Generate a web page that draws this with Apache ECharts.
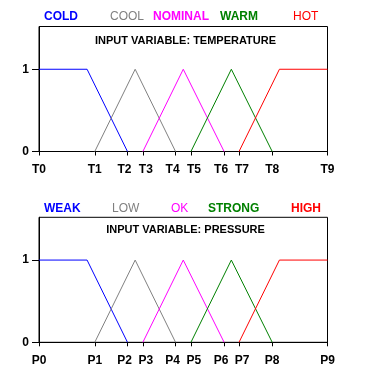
<!DOCTYPE html>
<html>
<head>
<meta charset="utf-8">
<script src="https://cdn.jsdelivr.net/npm/echarts@6/dist/echarts.min.js"></script>
<style>html,body{margin:0;padding:0;background:#fff;}#c{width:371px;height:371px;}</style>
</head>
<body>
<div id="c"></div>
<script>
// ---- data ----
const tempTicks = [0, 1.16, 1.84, 2.16, 2.84, 3.16, 3.85, 4.16, 4.85, 6];
const tempTickLabels = ['T0','T1','T2','T3','T4','T5','T6','T7','T8','T9'];
const presTicks = [0, 1.16, 1.84, 2.16, 2.84, 3.16, 3.85, 4.16, 4.85, 6];
const presTickLabels = ['P0','P1','P2','P3','P4','P5','P6','P7','P8','P9'];
const yTicks = [0, 1];

const tempNames = ['COLD','COOL','NOMINAL','WARM','HOT'];
const presNames = ['WEAK','LOW','OK','STRONG','HIGH'];

const tempCold    = [[0,1],[1,1],[1.84,0]];
const tempCool    = [[1.16,0],[2,1],[2.84,0]];
const tempNominal = [[2.16,0],[3,1],[3.85,0]];
const tempWarm    = [[3.16,0],[4,1],[4.85,0]];
const tempHot     = [[4.16,0],[5,1],[6,1]];

const presWeak   = [[0,1],[1,1],[1.84,0]];
const presLow    = [[1.16,0],[2,1],[2.84,0]];
const presOk     = [[2.16,0],[3,1],[3.85,0]];
const presStrong = [[3.16,0],[4,1],[4.85,0]];
const presHigh   = [[4.16,0],[5,1],[6,1]];

const titles = ['INPUT VARIABLE: TEMPERATURE', 'INPUT VARIABLE: PRESSURE'];

// ---- styles ----
const colors = ['#0000ff','#808080','#ff00ff','#008000','#ff0000'];
const FONT = '"Liberation Sans", Arial, sans-serif';
// label nudge styles per tick index (n = none, l = nudge left, r = nudge right)
const labelNudge = ['n','n','l','r','l','r','l','r','n','n'];

const chart = echarts.init(document.getElementById('c'), null, {renderer:'canvas'});

const labelBase = {color:'#000', fontWeight:'bold', fontSize:12, fontFamily:FONT};
function xAxis(gridIndex, ticks, labels) {
  return {
    type:'value', gridIndex, min:0, max:6,
    axisLine:{show:true, onZero:false, lineStyle:{color:'#000', width:1}},
    axisTick:{show:true, length:4, customValues:ticks, lineStyle:{color:'#000'}},
    axisLabel:{show:true, customValues:ticks, margin:12, ...labelBase,
      rich:{
        n:{...labelBase},
        l:{...labelBase, padding:[0,6,0,0]},
        r:{...labelBase, padding:[0,0,0,6]}
      },
      formatter:(v)=>{ const i = ticks.findIndex(t=>Math.abs(t-v)<1e-6); return i>=0?('{'+labelNudge[i]+'|'+labels[i]+'}'):''; }},
    splitLine:{show:false}
  };
}
function yAxis(gridIndex) {
  return {
    type:'value', gridIndex, min:0, max:1.52,
    axisLine:{show:true, lineStyle:{color:'#000', width:1}},
    axisTick:{show:true, length:7, customValues:yTicks, lineStyle:{color:'#000'}},
    axisLabel:{show:true, customValues:yTicks, margin:10, ...labelBase,
      formatter:(v)=>String(v)},
    splitLine:{show:false}
  };
}
function series(name, data, color, idx) {
  return {type:'line', name, data, xAxisIndex:idx, yAxisIndex:idx, symbol:'none',
    lineStyle:{color, width:1}, itemStyle:{color}, silent:true, animation:false};
}

const tempData = [tempCold, tempCool, tempNominal, tempWarm, tempHot];
const presData = [presWeak, presLow, presOk, presStrong, presHigh];

const tempLegendX = [44, 110, 153, 220, 293];
const presLegendX = [44, 112, 171, 208, 291];
const tempBold = [true, false, true, true, false];
const presBold = [true, false, false, true, true];

const graphics = [];
tempNames.forEach((n,i)=>graphics.push({type:'text', left:tempLegendX[i], top:11, silent:true,
  style:{text:n, fill:colors[i], font:(tempBold[i]?'bold ':'')+'12px '+FONT}}));
presNames.forEach((n,i)=>graphics.push({type:'text', left:presLegendX[i], top:203, silent:true,
  style:{text:n, fill:colors[i], font:(presBold[i]?'bold ':'')+'12px '+FONT}}));

chart.setOption({
  animation:false,
  backgroundColor:'#fff',
  title:[
    {text:titles[0], left:'center', top:35, textStyle:{fontSize:11, fontWeight:'bold', color:'#000', fontFamily:FONT}, padding:0},
    {text:titles[1], left:'center', top:224, textStyle:{fontSize:11, fontWeight:'bold', color:'#000', fontFamily:FONT}, padding:0}
  ],
  grid:[
    {left:39, right:43.5, top:26.5, height:125, show:true, borderColor:'#000', borderWidth:1, backgroundColor:'transparent'},
    {left:39, right:43.5, top:217.3, height:125, show:true, borderColor:'#000', borderWidth:1, backgroundColor:'transparent'}
  ],
  xAxis:[xAxis(0,tempTicks,tempTickLabels), xAxis(1,presTicks,presTickLabels)],
  yAxis:[yAxis(0), yAxis(1)],
  series:[
    ...tempData.map((d,i)=>series(tempNames[i], d, colors[i], 0)),
    ...presData.map((d,i)=>series(presNames[i], d, colors[i], 1))
  ],
  graphic:graphics
});
</script>
</body>
</html>
